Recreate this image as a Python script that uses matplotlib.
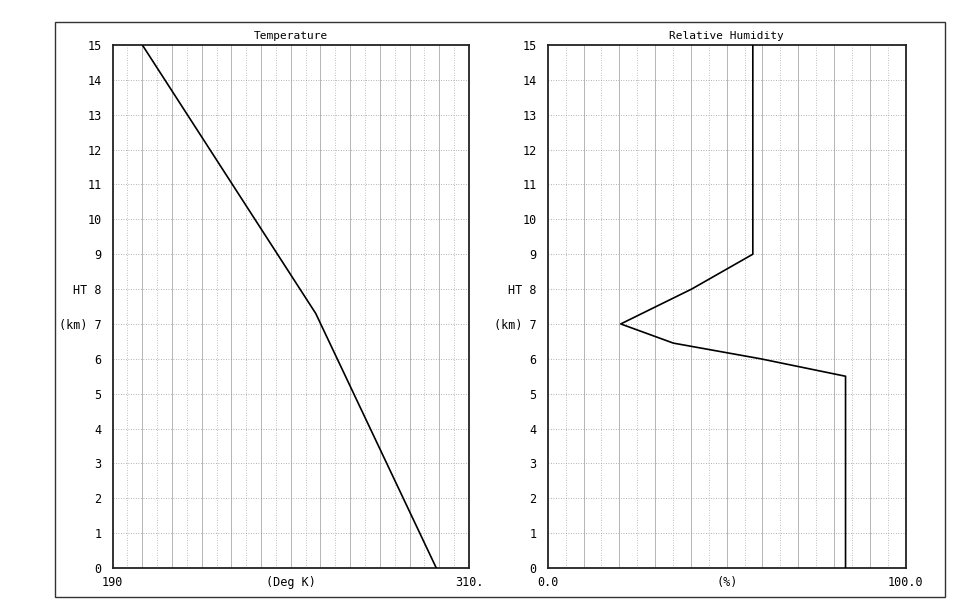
'''
Atmospheric profile plot - temperature and relative humidity vs height
'''

# Imports
import matplotlib.pyplot as plt
from matplotlib.patches import Rectangle

# Data
temp_height = [0, 7.3, 15]
temp_values = [299, 258.4, 200]

rh_height = [0, 5.5, 6.0, 6.45, 7, 8, 9, 15]
rh_values = [83.2, 83.2, 59.5, 35.1, 20.4, 40.2, 57.3, 57.3]

height_ticks = list(range(0, 16))
height_labels = [str(h) for h in height_ticks]
height_labels[8] = "HT 8"
height_labels[7] = "(km) 7"

# Plot
plt.rcParams['font.family'] = 'DejaVu Sans Mono'
fig = plt.figure(figsize=(9.77, 6.0), dpi=100)

# outer frame round both panels
fig.patches.append(Rectangle((0.0563, 0.005), 0.911, 0.958, transform=fig.transFigure,
                             fill=False, edgecolor='#333333', linewidth=1.0))


def draw_panel(ax, xvals, yvals, xmin, xmax, xmajor, xminor, title, xlabels, unit):
    ax.plot(xvals, yvals, color='black', linewidth=1.2, zorder=3)
    ax.set_xlim(xmin, xmax)
    ax.set_ylim(0, 15)

    # grid - solid majors, dotted minors
    x = xmin + xmajor
    while x < xmax - 1e-9:
        ax.axvline(x, color='#aaaaaa', linewidth=0.6, zorder=1)
        x += xmajor
    x = xmin + xminor
    while x < xmax - 1e-9:
        ax.axvline(x, color='#aaaaaa', linewidth=0.6, linestyle=(0, (1, 2)), zorder=1)
        x += xmajor
    for h in height_ticks[1:-1]:
        ax.axhline(h, color='#999999', linewidth=0.6, linestyle=(0, (1, 2)), zorder=1)

    ax.set_yticks(height_ticks)
    ax.set_yticklabels(height_labels, fontsize=8.5)
    ax.tick_params(axis='y', length=0, pad=8)
    ax.set_xticks([])
    for s in ax.spines.values():
        s.set_linewidth(1.3)
        s.set_color('#222222')

    ax.set_title(title, fontsize=8, pad=4)
    ax.text(0.0, -0.027, xlabels[0], transform=ax.transAxes, ha='center', va='center', fontsize=8.5)
    ax.text(0.5, -0.027, unit, transform=ax.transAxes, ha='center', va='center', fontsize=8.5)
    ax.text(1.0, -0.027, xlabels[1], transform=ax.transAxes, ha='center', va='center', fontsize=8.5)


ax1 = fig.add_axes([0.1153, 0.0533, 0.3647, 0.8717])
draw_panel(ax1, temp_values, temp_height, 190, 310, 10, 5, "Temperature", ["190", "310."], "(Deg K)")

ax2 = fig.add_axes([0.5606, 0.0533, 0.3664, 0.8717])
draw_panel(ax2, rh_values, rh_height, 0, 100, 10, 5, "Relative Humidity", ["0.0", "100.0"], "(%)")

plt.savefig("out.png", dpi=100)
